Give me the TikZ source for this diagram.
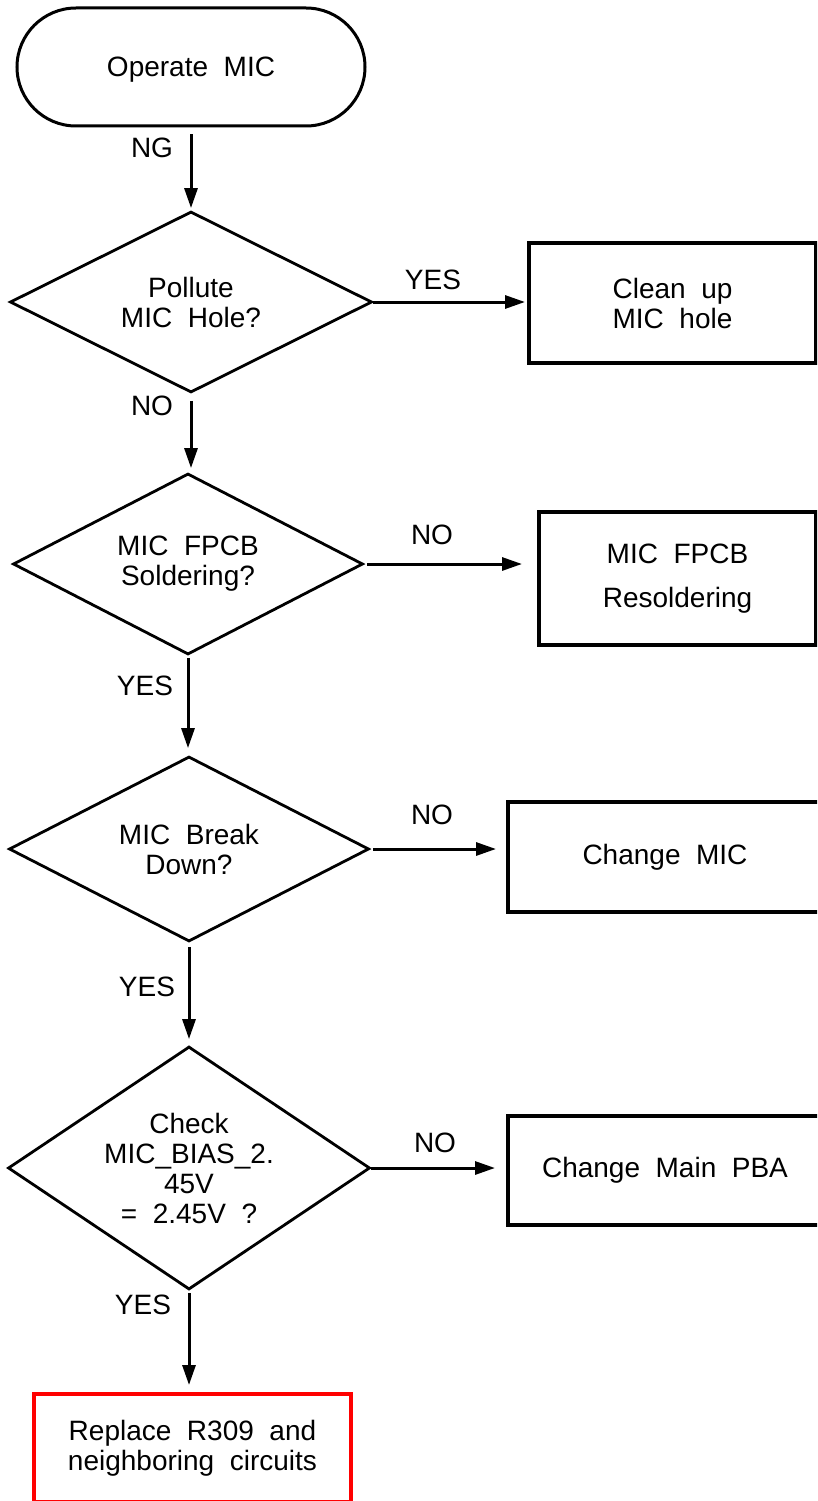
\documentclass[tikz,border=0pt]{standalone}
\usepackage{fontspec}
\setmainfont[WordSpace=2]{Liberation Sans}
\usetikzlibrary{shapes.geometric,arrows.meta}

\tikzset{
    flowtext/.style={font=\fontsize{28}{30}\selectfont, align=center, inner sep=0pt},
    terminal/.style={flowtext, draw, line width=3pt, rounded corners=59pt, minimum width=348pt, minimum height=118pt},
    decision/.style={flowtext, draw, diamond, aspect=1.5, line width=2.8pt},
    process/.style={flowtext, draw, rectangle, line width=4pt},
    answer/.style={font=\fontsize{28}{30}\selectfont, inner sep=0pt},
    flow/.style={line width=3pt, -{Triangle[length=20pt,width=13pt]}},
}

\begin{document}
\begin{tikzpicture}[x=1pt, y=-1pt]
    \useasboundingbox (0,0) rectangle (817,1501);
    \clip (0,0) rectangle (817,1501);

    \node[terminal, text depth=0pt] (start) at (191,67) {Operate MIC};
    \node[decision, minimum width=362pt, minimum height=181pt] (hole) at (191,302) {Pollute\\MIC Hole?};
    \node[process, minimum width=287pt, minimum height=120pt] (clean) at (672.5,303) {Clean up\\MIC hole};
    \node[decision, minimum width=350pt, minimum height=181pt] (fpcb) at (188,564) {MIC FPCB\\Soldering?};
    \node[process, minimum width=277pt, minimum height=133pt] (resolder) at (677.5,578.5) {MIC FPCB\\[14pt]Resoldering};
    \node[decision, minimum width=360pt, minimum height=185pt] (brk) at (189,849) {MIC Break\\Down?};
    \node[process, minimum width=314pt, minimum height=110pt] (chmic) at (665,857) {Change MIC};
    \node[decision, minimum width=362pt, minimum height=243pt] (bias) at (189,1168) {Check\\MIC\_BIAS\_2.\\45V\\= 2.45V ?};
    \node[process, minimum width=314pt, minimum height=109pt] (chpba) at (665,1170.5) {Change Main PBA};
    \node[process, draw=red, minimum width=317pt, minimum height=108pt] (repl) at (192.5,1448) {Replace R309 and\\neighboring circuits};

    \draw[flow, shorten <=7pt, shorten >=2pt] (start.south) -- (start.south |- hole.north);
    \draw[flow, shorten >=2pt] (hole.east) -- (hole.east -| clean.west);
    \draw[flow, shorten <=7pt, shorten >=4pt] (hole.south) -- (hole.south |- fpcb.north);
    \draw[flow, shorten <=3pt, shorten >=15pt] (fpcb.east) -- (fpcb.east -| resolder.west);
    \draw[flow, shorten <=2pt, shorten >=7pt] (fpcb.south) -- (fpcb.south |- brk.north);
    \draw[flow, shorten <=3pt, shorten >=10pt] (brk.east) -- (brk.east -| chmic.west);
    \draw[flow, shorten <=4pt, shorten >=6pt] (brk.south) -- (brk.south |- bias.north);
    \draw[flow, shorten >=11pt] (bias.east) -- (bias.east -| chpba.west);
    \draw[flow, shorten <=2pt, shorten >=7pt] (bias.south) -- (bias.south |- repl.north);

    \node[answer] (ng) at (152,148) {NG};
    \node[answer] (yes1) at (433,280) {YES};
    \node[answer] (no1) at (152,406) {NO};
    \node[answer] (no2) at (432,535) {NO};
    \node[answer] (yes2) at (145,686) {YES};
    \node[answer] (no3) at (432,815) {NO};
    \node[answer] (yes3) at (147,987) {YES};
    \node[answer] (no4) at (435,1143) {NO};
    \node[answer] (yes4) at (143,1305) {YES};
\end{tikzpicture}
\end{document}
